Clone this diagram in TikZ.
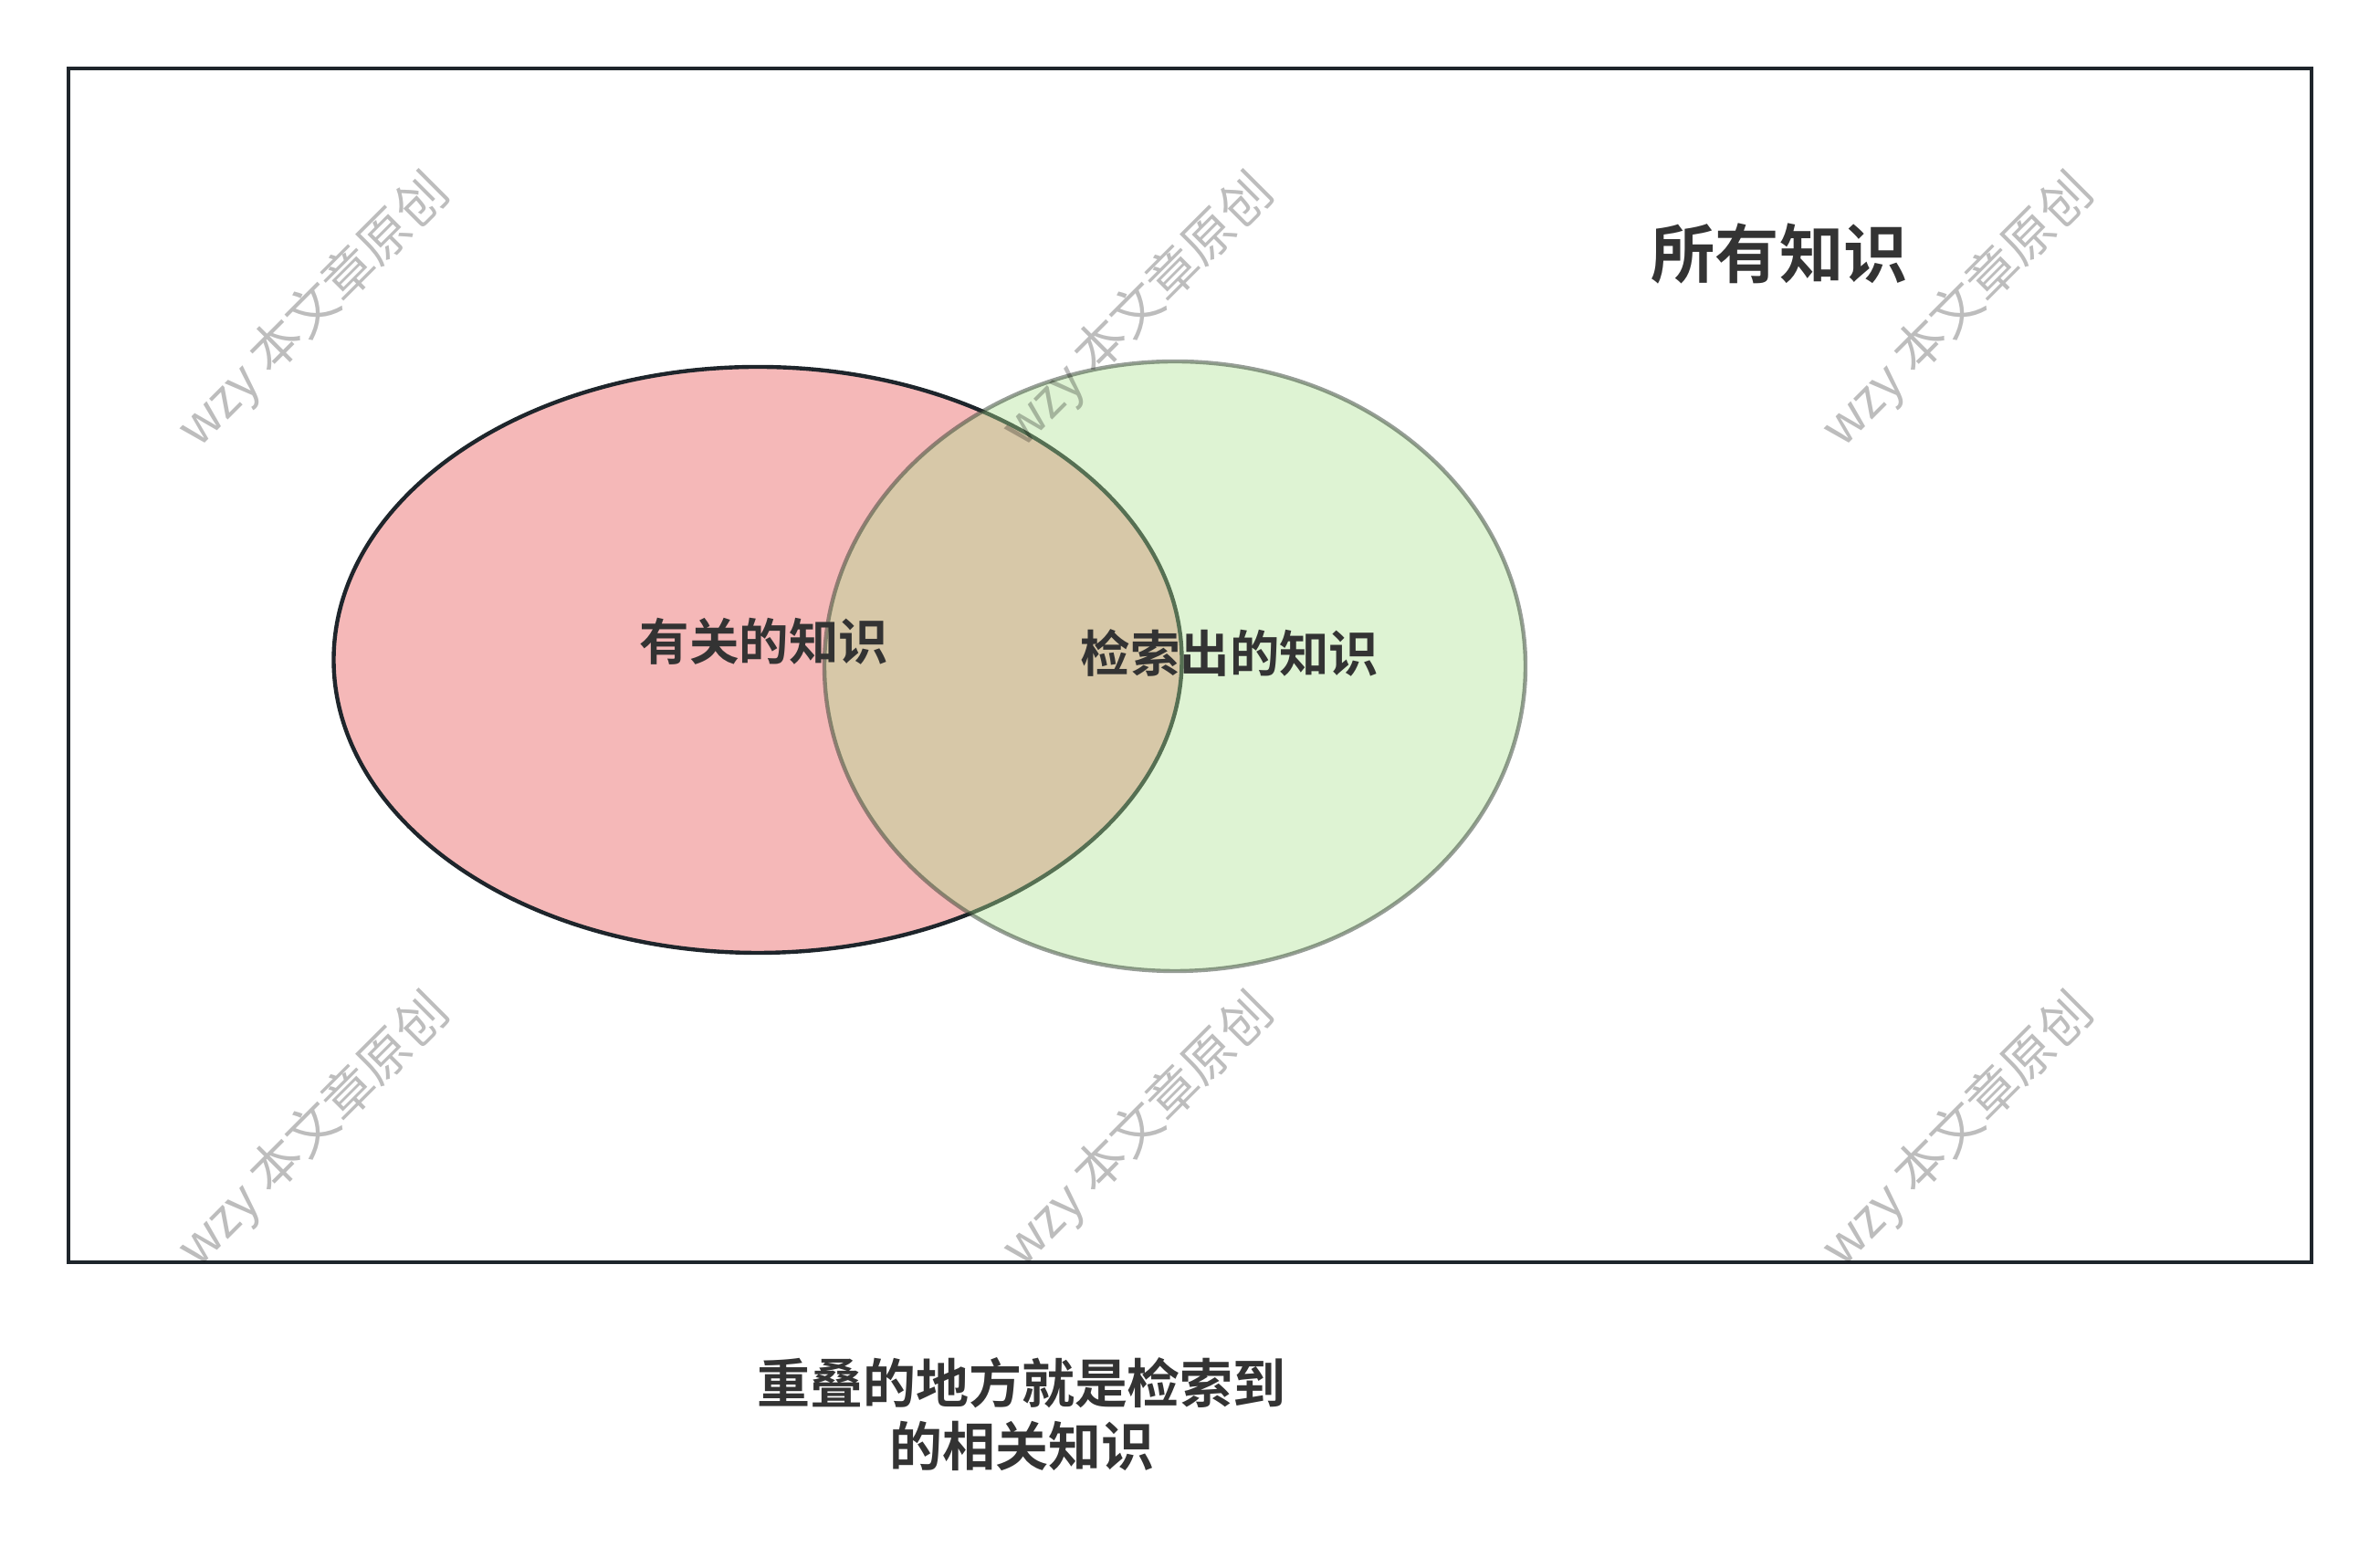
\documentclass[tikz,border=0pt]{standalone}
\usepackage{fontspec}
\setmainfont{Noto Sans CJK SC}[BoldFont={Noto Sans CJK SC Bold}]
\usepackage{xcolor}
\definecolor{mytext}{HTML}{333333}
\definecolor{myline}{HTML}{1E252B}
\definecolor{myred1}{HTML}{F5B8B8}
\definecolor{mygre1}{RGB}{172,225,145}
\definecolor{mygre2}{RGB}{48,62,48}
\usepackage{tikz}
\usetikzlibrary{positioning}
\usetikzlibrary{shapes.geometric}
\tikzstyle{allset} = [rectangle, minimum width=24.57cm, minimum height=13.08cm, draw=myline, line width=1.25pt]
\tikzstyle{relset} = [ellipse, minimum width=9.29cm, minimum height=6.42cm, draw=myline, line width=1.25pt, fill=myred1]
\tikzstyle{retset} = [ellipse, minimum width=7.68cm, minimum height=6.68cm, draw=mygre2, draw opacity=0.5, line width=1.25pt, fill=mygre1, fill opacity=0.4]
\tikzstyle{setname} = [text=mytext, font=\bfseries\fontsize{15.5}{18}\selectfont]
\tikzstyle{bigname} = [text=mytext, font=\bfseries\fontsize{20}{24}\selectfont]
\tikzstyle{note} = [text=mytext, align=center, font=\bfseries\fontsize{16.5}{19.6}\selectfont]
\tikzstyle{wmark} = [text=black, text opacity=0.26, rotate=45, font=\fontsize{16}{19}\selectfont]

\begin{document}
\begin{tikzpicture}
	\useasboundingbox (0,0) rectangle (26.07,16.95);
	\node (all) [allset] at (13.035,9.66) {};
	\node (rel) [relset] at (8.30,9.72) {};
	\node (ret) [retset] at (12.87,9.65) {};
	\node (allt) [bigname] at (19.49,14.17) {所有知识};
	\node (relt) [setname] at (8.37,9.92) {有关的知识};
	\node (rett) [setname] at (13.47,9.80) {检索出的知识};
	\node (sum) [note] at (11.19,1.45) {重叠的地方就是检索到\\的相关知识};
	\foreach \x/\i in {3.44/1, 12.47/2, 21.45/3}
		\foreach \y/\j in {13.54/1, 4.56/2}
			\node (wm\i\j) [wmark] at (\x,\y) {wzy 本文章原创};
\end{tikzpicture}
\end{document}
